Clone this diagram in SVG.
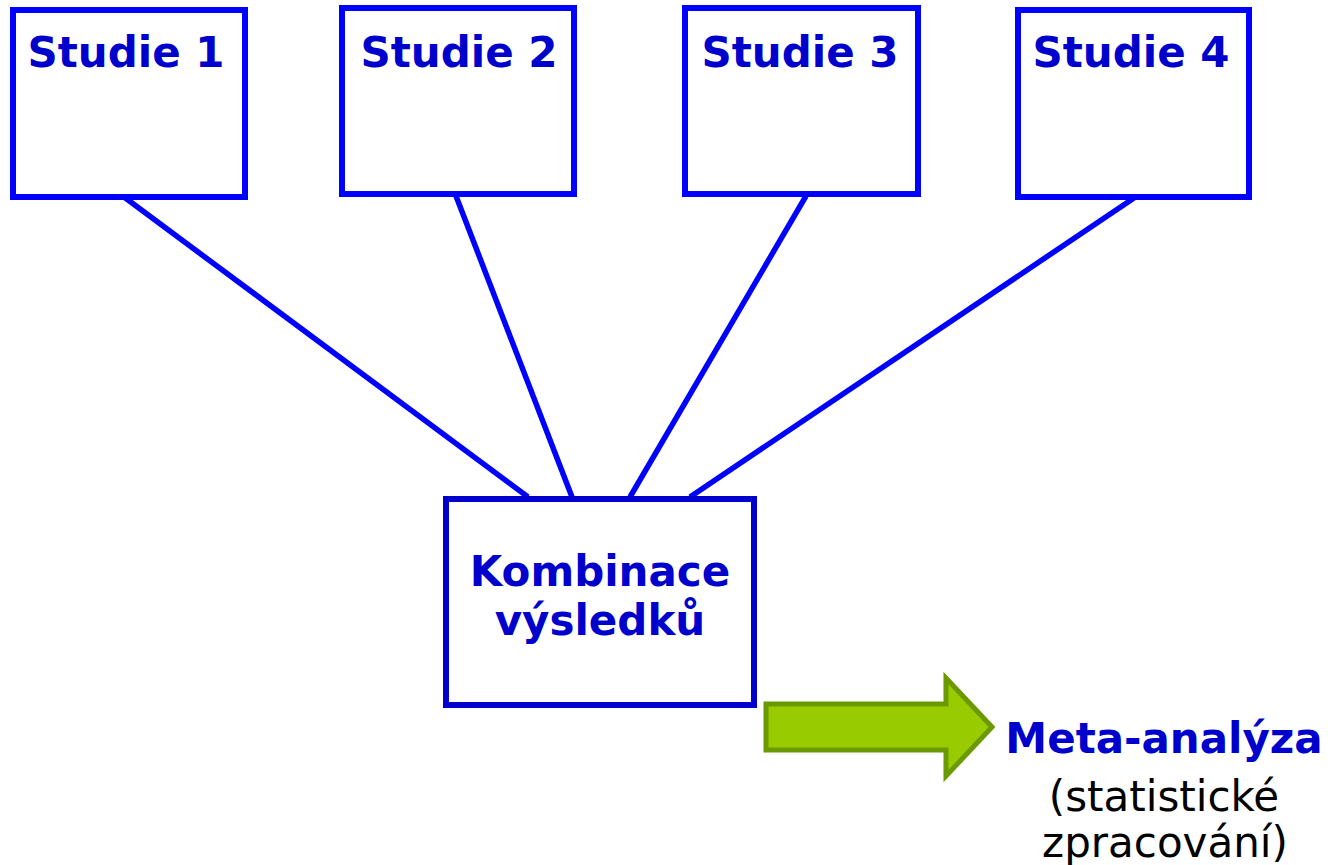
<svg xmlns="http://www.w3.org/2000/svg" width="1328" height="865" viewBox="0 0 1328 865">
<style>
.study{fill:#FFFFFF;stroke:#0000FF;stroke-width:6}
.combo{fill:#FFFFFF;stroke:#0000CC;stroke-width:6}
.lbl{font-family:"DejaVu Sans","Liberation Sans",sans-serif;font-weight:bold;font-size:42px;fill:#0000CC;text-anchor:middle}
.sub{font-family:"DejaVu Sans","Liberation Sans",sans-serif;font-size:42px;fill:#000000;text-anchor:middle}
.conn{stroke:#0000FF;stroke-width:5.5;fill:none}
.arrow{fill:#99CC00;stroke:#6B9900;stroke-width:5;stroke-linejoin:miter}
</style>
<rect width="1328" height="865" fill="#FFFFFF"/>
<g id="connectors">
<line class="conn" x1="124" y1="197" x2="528" y2="497"/>
<line class="conn" x1="456" y1="196" x2="572" y2="497"/>
<line class="conn" x1="806" y1="196" x2="630" y2="497"/>
<line class="conn" x1="1134" y1="198" x2="690" y2="497"/>
</g>
<g id="studie1">
<rect class="study" x="13" y="10" width="232" height="187"/>
<text class="lbl" x="126" y="67">Studie 1</text>
</g>
<g id="studie2">
<rect class="study" x="342" y="8" width="232" height="186"/>
<text class="lbl" x="459" y="67">Studie 2</text>
</g>
<g id="studie3">
<rect class="study" x="685" y="8" width="233" height="186"/>
<text class="lbl" x="800" y="67">Studie 3</text>
</g>
<g id="studie4">
<rect class="study" x="1018" y="10" width="231" height="187"/>
<text class="lbl" x="1131" y="67">Studie 4</text>
</g>
<g id="kombinace">
<rect class="combo" x="446" y="499" width="308" height="206"/>
<text class="lbl" x="600" y="586">Kombinace</text>
<text class="lbl" x="600" y="635">výsledků</text>
</g>
<g id="arrow">
<path class="arrow" d="M766,704 L946,704 L946,678 L992,727 L946,776 L946,750 L766,750 Z"/>
</g>
<g id="meta">
<text class="lbl" x="1164" y="753">Meta-analýza</text>
<text class="sub" x="1164" y="811">(statistické</text>
<text class="sub" x="1165" y="857">zpracování)</text>
</g>
</svg>
